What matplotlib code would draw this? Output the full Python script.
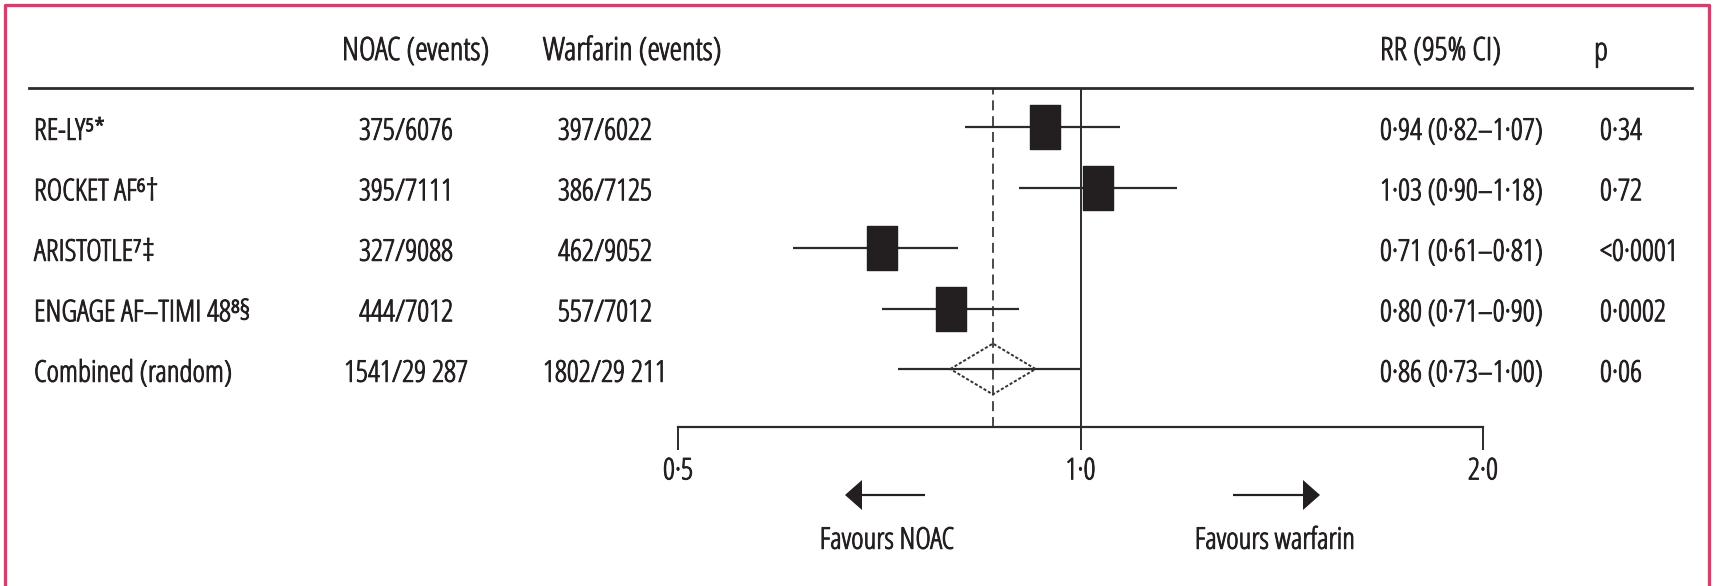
import numpy as np
import matplotlib
matplotlib.use("Agg")
import matplotlib.pyplot as plt
from matplotlib import transforms
from matplotlib import patheffects
from matplotlib.lines import Line2D
from matplotlib.patches import FancyArrow, Polygon
from matplotlib.path import Path
from matplotlib.ticker import NullLocator

plt.rcParams["font.family"] = ["Open Sans", "DejaVu Sans"]
plt.rcParams["font.stretch"] = "condensed"

# ---- data -------------------------------------------------------------
trials = ["RE-LY\u2075*", "ROCKET AF\u2076\u2020", "ARISTOTLE\u2077\u2021",
          "ENGAGE AF\u2013TIMI 48\u2078\u00a7", "Combined (random)"]
noac_events = [375, 395, 327, 444, 1541]
noac_total = [6076, 7111, 9088, 7012, 29287]
warf_events = [397, 386, 462, 557, 1802]
warf_total = [6022, 7125, 9052, 7012, 29211]
rr = [0.94, 1.03, 0.71, 0.80, 0.86]
rr_low = [0.82, 0.90, 0.61, 0.71, 0.73]
rr_high = [1.07, 1.18, 0.81, 0.90, 1.00]
p_values = ["0\u00b734", "0\u00b772", "<0\u00b70001", "0\u00b70002", "0\u00b706"]
ticks = [0.5, 1.0, 2.0]
tick_labels = ["0\u00b75", "1\u00b70", "2\u00b70"]

# ---- styling ----------------------------------------------------------
INK = "#231f20"
RULE = "#2b2b2b"
BORDER = "#d0416b"
FS = 21.5
FS_HEAD = 23
# a thin outline in the text colour gives the condensed face a regular weight
SOLID = [patheffects.withStroke(linewidth=0.7, foreground=INK)]
TXT = dict(color=INK, path_effects=SOLID)

W, H = 1713, 586
fig = plt.figure(figsize=(W / 100, H / 100), dpi=100)
fig.patch.set_facecolor("white")


def fx(px):
    return px / W


def fy(py):
    return 1 - py / H


def dotted(v):
    return f"{v:.2f}".replace(".", "\u00b7")


def grouped(n):
    s = str(n)
    return s[:-3] + "\u2009" + s[-3:] if n >= 10000 else s


# forest-plot axes (log2 scale on relative risk)
AX_TOP, AX_BOTTOM = 88, 427
ax = fig.add_axes([fx(678), fy(AX_BOTTOM), fx(1483) - fx(678), (AX_BOTTOM - AX_TOP) / H])
ax.set_xscale("log", base=2)
ax.set_xlim(0.5, 2.0)
ROW_PX = 60.5
ax.set_ylim((AX_BOTTOM - 127) / ROW_PX, (AX_TOP - 127) / ROW_PX)
ax.patch.set_visible(False)
for side in ["top", "left", "right"]:
    ax.spines[side].set_visible(False)
ax.spines["bottom"].set_linewidth(1.6)
ax.spines["bottom"].set_color(RULE)
ax.set_yticks([])
ax.set_xticks(ticks)
ax.set_xticklabels(tick_labels)
ax.xaxis.set_minor_locator(NullLocator())
ax.tick_params(axis="x", length=16.5, width=1.4, direction="out", pad=5,
               labelsize=FS, color=RULE, labelcolor=INK)
for lbl in ax.get_xticklabels():
    lbl.set_path_effects(SOLID)

n = len(trials)
rows = np.arange(n)

# reference lines: no effect and pooled estimate
ax.axvline(1.0, color=RULE, lw=1.4, zorder=1)
ax.axvline(rr[-1], color=RULE, lw=1.2, ls=(0, (6, 3.5)), zorder=1)

# confidence intervals
ax.hlines(rows, rr_low, rr_high, color=RULE, lw=1.6, zorder=2)

# individual trial estimates: filled rectangles
box = Path([(-0.337, -0.5), (0.337, -0.5), (0.337, 0.5), (-0.337, 0.5), (-0.337, -0.5)],
           [Path.MOVETO, Path.LINETO, Path.LINETO, Path.LINETO, Path.CLOSEPOLY])
ax.plot(rr[:-1], rows[:-1], ls="none", marker=box, ms=31, color=INK, zorder=3)

# pooled estimate: open diamond
half_w, half_h = 0.106, 0.42
c, yc = rr[-1], rows[-1]
diamond = Polygon([(c * 2 ** -half_w, yc), (c, yc - half_h),
                   (c * 2 ** half_w, yc), (c, yc + half_h)],
                  closed=True, facecolor="none", edgecolor="#333333",
                  lw=1.4, ls=(0, (1.6, 1.0)), zorder=3)
ax.add_patch(diamond)

# ---- table text -------------------------------------------------------
tr = transforms.blended_transform_factory(fig.transFigure, ax.transData)
TEXT_DROP = 5 / ROW_PX
hy = fy(52)
fig.text(fx(342), hy, "NOAC (events)", fontsize=FS_HEAD, va="center", **TXT)
fig.text(fx(543), hy, "Warfarin (events)", fontsize=FS_HEAD, va="center", **TXT)
fig.text(fx(1380), hy, "RR (95% CI)", fontsize=FS_HEAD, va="center", **TXT)
fig.text(fx(1601), hy, "p", fontsize=FS_HEAD, va="center", ha="center", **TXT)

for i in range(n):
    y = rows[i] + TEXT_DROP
    fig.text(fx(34), y, trials[i], transform=tr, fontsize=FS, va="center", **TXT)
    fig.text(fx(406), y, f"{noac_events[i]}/{grouped(noac_total[i])}", transform=tr,
             fontsize=FS, va="center", ha="center", **TXT)
    fig.text(fx(605), y, f"{warf_events[i]}/{grouped(warf_total[i])}", transform=tr,
             fontsize=FS, va="center", ha="center", **TXT)
    fig.text(fx(1380), y, f"{dotted(rr[i])} ({dotted(rr_low[i])}\u2013{dotted(rr_high[i])})",
             transform=tr, fontsize=FS, va="center", **TXT)
    fig.text(fx(1600), y, p_values[i], transform=tr, fontsize=FS, va="center", **TXT)

# header rule
fig.add_artist(Line2D([fx(29), fx(1692)], [fy(AX_TOP), fy(AX_TOP)],
                      transform=fig.transFigure, color=RULE, lw=2.0))

# direction arrows and captions
ay = fy(495)
fig.add_artist(FancyArrow(fx(925), ay, fx(845) - fx(925), 0, width=2.2 / H,
                          head_width=30 / H, head_length=17 / W,
                          length_includes_head=True, transform=fig.transFigure,
                          color=INK, lw=0))
fig.add_artist(FancyArrow(fx(1233), ay, fx(1320) - fx(1233), 0, width=2.2 / H,
                          head_width=30 / H, head_length=17 / W,
                          length_includes_head=True, transform=fig.transFigure,
                          color=INK, lw=0))
fig.text(fx(887), fy(541), "Favours NOAC", fontsize=FS, ha="center", va="center", **TXT)
fig.text(fx(1275), fy(541), "Favours warfarin", fontsize=FS, ha="center", va="center", **TXT)

# panel frame (open at the bottom)
fig.add_artist(Line2D([fx(5), fx(5), fx(1709), fx(1709)], [-0.02, fy(5), fy(5), -0.02],
                      transform=fig.transFigure, color=BORDER, lw=2.4))

fig.savefig("out.png", dpi=100)
